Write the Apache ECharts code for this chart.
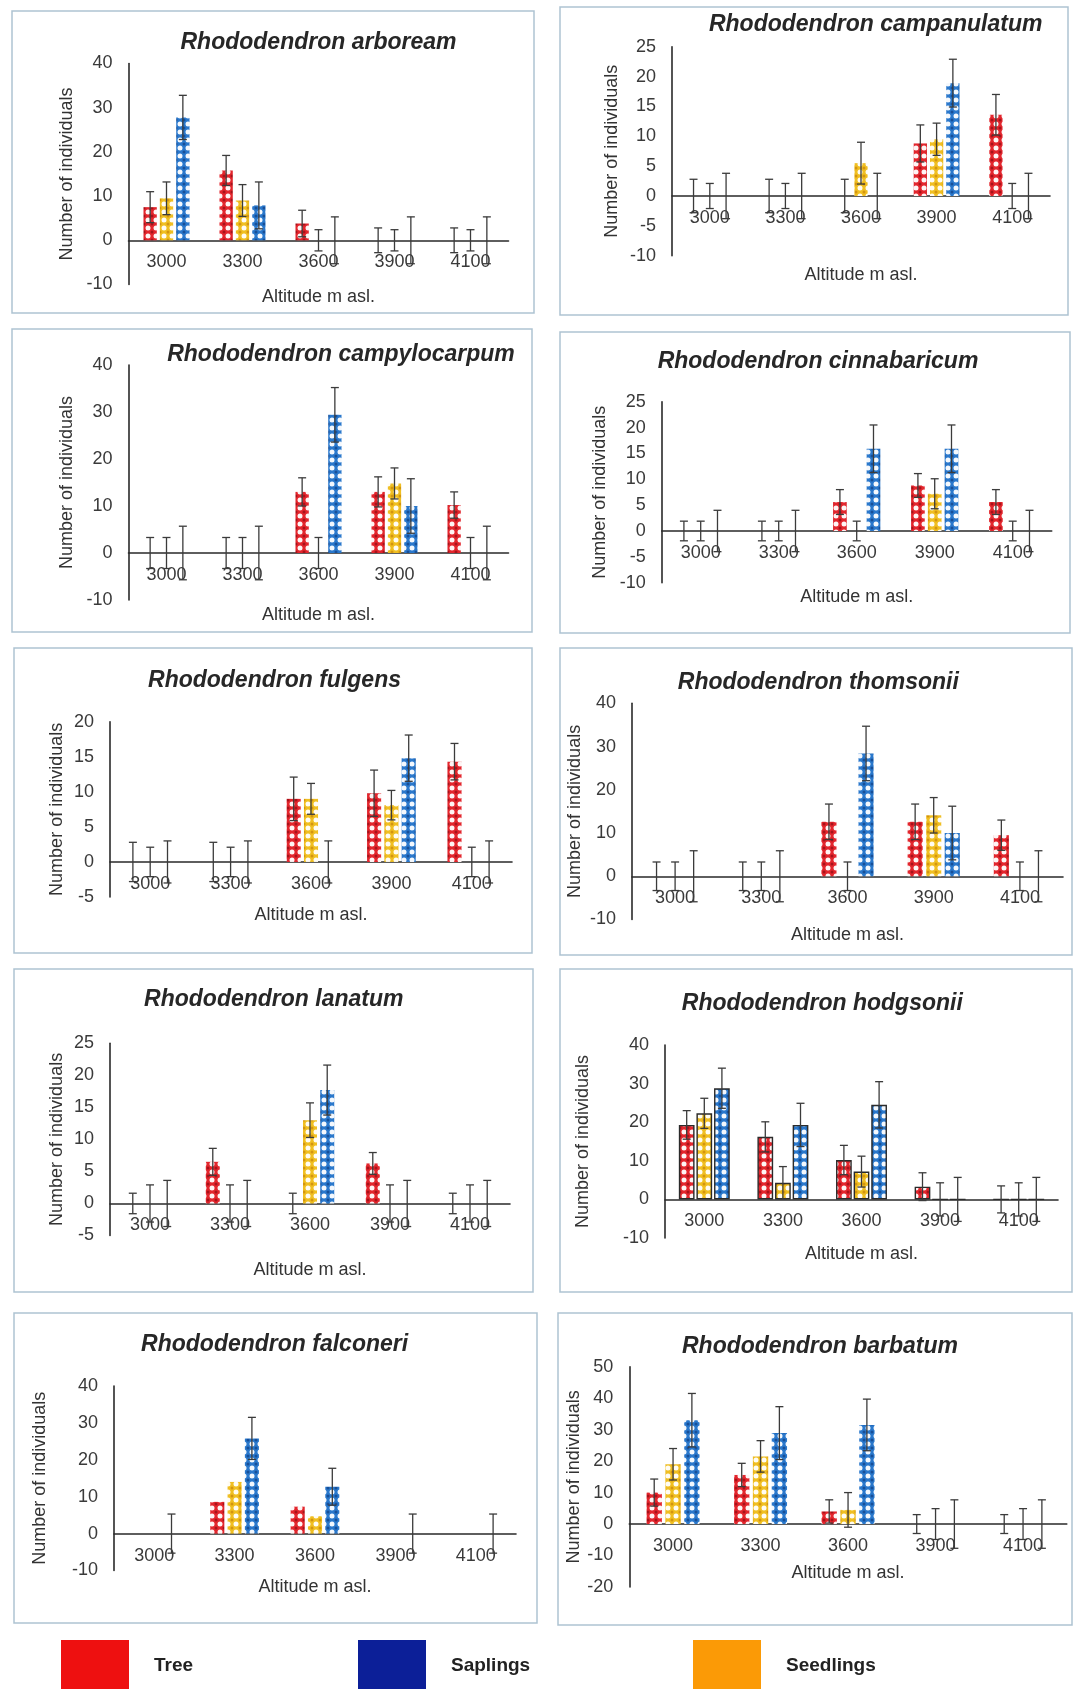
<!DOCTYPE html>
<html>
<head>
<meta charset="utf-8">
<script src="https://cdn.jsdelivr.net/npm/echarts@6/dist/echarts.min.js"></script>
<style>
  html, body { margin: 0; padding: 0; background: #ffffff; }
  #chart { width: 1073px; height: 1689px; }
</style>
</head>
<body>
<div id="chart"></div>
<script>
// Altitude classes (m asl.)
const altitudes = ['3000', '3300', '3600', '3900', '4100'];

// Rhododendron arboream
const arboreamTree = [7.5, 15.8, 3.8, 0, 0];
const arboreamTreeErr = [3.5, 3.4, 3.0, 2.8, 2.8];
const arboreamSeedlings = [9.5, 9, 0, 0, 0];
const arboreamSeedlingsErr = [3.7, 3.6, 2.4, 2.4, 2.4];
const arboreamSaplings = [27.8, 7.9, 0, 0, 0];
const arboreamSaplingsErr = [5, 5.3, 5.3, 5.3, 5.3];
const arboreamTicks = [-10, 40, 10];

// Rhododendron campanulatum
const campanulatumTree = [0, 0, 0, 8.8, 13.6];
const campanulatumTreeErr = [2.8, 2.8, 2.8, 3.1, 3.4];
const campanulatumSeedlings = [0, 0, 5.5, 9.5, 0];
const campanulatumSeedlingsErr = [2.1, 2.1, 3.5, 2.7, 2.1];
const campanulatumSaplings = [0, 0, 0, 18.9, 0];
const campanulatumSaplingsErr = [3.8, 3.8, 3.8, 4, 3.8];
const campanulatumTicks = [-10, 25, 5];

// Rhododendron campylocarpum
const campylocarpumTree = [0, 0, 13, 13, 10.2];
const campylocarpumTreeErr = [3.3, 3.3, 3, 3.2, 2.8];
const campylocarpumSeedlings = [0, 0, 0, 14.8, 0];
const campylocarpumSeedlingsErr = [3.3, 3.3, 3.3, 3.3, 3.3];
const campylocarpumSaplings = [0, 0, 29.4, 10, 0];
const campylocarpumSaplingsErr = [5.7, 5.7, 5.8, 5.8, 5.7];
const campylocarpumTicks = [-10, 40, 10];

// Rhododendron cinnabaricum
const cinnabaricumTree = [0, 0, 5.6, 8.8, 5.6];
const cinnabaricumTreeErr = [1.9, 1.9, 2.4, 2.3, 2.4];
const cinnabaricumSeedlings = [0, 0, 0, 7.2, 0];
const cinnabaricumSeedlingsErr = [1.9, 1.9, 1.9, 2.9, 1.9];
const cinnabaricumSaplings = [0, 0, 15.9, 15.9, 0];
const cinnabaricumSaplingsErr = [4, 4, 4.6, 4.6, 4];
const cinnabaricumTicks = [-10, 25, 5];

// Rhododendron fulgens
const fulgensTree = [0, 0, 9, 9.8, 14.3];
const fulgensTreeErr = [2.8, 2.8, 3.1, 3.3, 2.6];
const fulgensSeedlings = [0, 0, 9, 8.1, 0];
const fulgensSeedlingsErr = [2.1, 2.1, 2.2, 2.1, 2.1];
const fulgensSaplings = [0, 0, 0, 14.8, 0];
const fulgensSaplingsErr = [3, 3, 3, 3.3, 3];
const fulgensTicks = [-5, 20, 5];

// Rhododendron thomsonii
const thomsoniiTree = [0, 0, 12.6, 12.6, 9.5];
const thomsoniiTreeErr = [3.3, 3.3, 4.1, 4.1, 3.5];
const thomsoniiSeedlings = [0, 0, 0, 14.1, 0];
const thomsoniiSeedlingsErr = [3.3, 3.3, 3.3, 4.1, 3.3];
const thomsoniiSaplings = [0, 0, 28.4, 10, 0];
const thomsoniiSaplingsErr = [5.9, 5.9, 6.3, 6.2, 5.9];
const thomsoniiTicks = [-10, 40, 10];

// Rhododendron lanatum
const lanatumTree = [0, 6.5, 0, 6.25, 0];
const lanatumTreeErr = [1.6, 2.1, 1.6, 1.7, 1.6];
const lanatumSeedlings = [0, 0, 13, 0, 0];
const lanatumSeedlingsErr = [2.9, 2.9, 2.7, 2.9, 2.9];
const lanatumSaplings = [0, 0, 17.7, 0, 0];
const lanatumSaplingsErr = [3.6, 3.6, 3.9, 3.6, 3.6];
const lanatumTicks = [-5, 25, 5];

// Rhododendron hodgsonii
const hodgsoniiTree = [19.3, 16.2, 10.2, 3.3, 0];
const hodgsoniiTreeErr = [3.7, 3.9, 3.8, 3.6, 3.5];
const hodgsoniiSeedlings = [22.3, 4.3, 7.2, 0, 0];
const hodgsoniiSeedlingsErr = [3.9, 4.2, 4, 4.3, 4.3];
const hodgsoniiSaplings = [28.8, 19.3, 24.5, 0, 0];
const hodgsoniiSaplingsErr = [5.2, 5.6, 6, 5.7, 5.7];
const hodgsoniiTicks = [-10, 40, 10];

// Rhododendron falconeri
const falconeriTree = [0, 8.6, 7.3, 0, 0];
const falconeriTreeErr = [0, 0, 0, 0, 0];
const falconeriSeedlings = [0, 14, 4.7, 0, 0];
const falconeriSeedlingsErr = [0, 0, 0, 0, 0];
const falconeriSaplings = [0, 25.8, 12.7, 0, 0];
const falconeriSaplingsErr = [5.3, 5.7, 5, 5.3, 5.3];
const falconeriTicks = [-10, 40, 10];

// Rhododendron barbatum
const barbatumTree = [10, 15.6, 4, 0, 0];
const barbatumTreeErr = [4.3, 3.7, 3.7, 3, 3];
const barbatumSeedlings = [19, 21.5, 4.5, 0, 0];
const barbatumSeedlingsErr = [5, 5, 5.5, 4.9, 4.9];
const barbatumSaplings = [33, 28.9, 31.5, 0, 0];
const barbatumSaplingsErr = [8.5, 8.4, 8.2, 7.7, 7.7];
const barbatumTicks = [-20, 50, 10];

const stageNames = ['Tree', 'Seedlings', 'Saplings'];

// Panel layout: frame box, plot grid, title centre and axis-name gaps
const panels = [
  { title: 'Rhododendron arboream', data: [arboreamTree, arboreamSeedlings, arboreamSaplings], err: [arboreamTreeErr, arboreamSeedlingsErr, arboreamSaplingsErr], ticks: arboreamTicks,
    frame: [12, 11, 522, 302], grid: [128.5, 63.5, 380, 221], titleAt: [318.5, 42.7], yGap: 52, xGap: 48 },
  { title: 'Rhododendron campanulatum', data: [campanulatumTree, campanulatumSeedlings, campanulatumSaplings], err: [campanulatumTreeErr, campanulatumSeedlingsErr, campanulatumSaplingsErr], ticks: campanulatumTicks,
    frame: [560, 7, 508, 308], grid: [672, 46.7, 378, 209], titleAt: [875.7, 25], yGap: 51, xGap: 70 },
  { title: 'Rhododendron campylocarpum', data: [campylocarpumTree, campylocarpumSeedlings, campylocarpumSaplings], err: [campylocarpumTreeErr, campylocarpumSeedlingsErr, campylocarpumSaplingsErr], ticks: campylocarpumTicks,
    frame: [12, 329, 520, 303], grid: [128.5, 365, 380, 235], titleAt: [341, 355], yGap: 52, xGap: 53 },
  { title: 'Rhododendron cinnabaricum', data: [cinnabaricumTree, cinnabaricumSeedlings, cinnabaricumSaplings], err: [cinnabaricumTreeErr, cinnabaricumSeedlingsErr, cinnabaricumSaplingsErr], ticks: cinnabaricumTicks,
    frame: [560, 332, 510, 301], grid: [661.7, 401.7, 390, 181], titleAt: [818, 361.7], yGap: 53, xGap: 57 },
  { title: 'Rhododendron fulgens', data: [fulgensTree, fulgensSeedlings, fulgensSaplings], err: [fulgensTreeErr, fulgensSeedlingsErr, fulgensSaplingsErr], ticks: fulgensTicks,
    frame: [14, 648, 518, 305], grid: [110, 721.7, 402, 175.3], titleAt: [274.5, 680.7], yGap: 44, xGap: 44 },
  { title: 'Rhododendron thomsonii', data: [thomsoniiTree, thomsoniiSeedlings, thomsoniiSaplings], err: [thomsoniiTreeErr, thomsoniiSeedlingsErr, thomsoniiSaplingsErr], ticks: thomsoniiTicks,
    frame: [560, 648, 512, 307], grid: [632, 703.3, 431, 216.2], titleAt: [818.3, 682.7], yGap: 48, xGap: 50 },
  { title: 'Rhododendron lanatum', data: [lanatumTree, lanatumSeedlings, lanatumSaplings], err: [lanatumTreeErr, lanatumSeedlingsErr, lanatumSaplingsErr], ticks: lanatumTicks,
    frame: [14, 969, 519, 323], grid: [110, 1043.3, 400, 192.2], titleAt: [273.8, 1000], yGap: 44, xGap: 58 },
  { title: 'Rhododendron hodgsonii', data: [hodgsoniiTree, hodgsoniiSeedlings, hodgsoniiSaplings], err: [hodgsoniiTreeErr, hodgsoniiSeedlingsErr, hodgsoniiSaplingsErr], ticks: hodgsoniiTicks,
    frame: [560, 969, 512, 323], grid: [665, 1045, 393, 193], titleAt: [822.3, 1003.3], yGap: 73, xGap: 46, outlined: true },
  { title: 'Rhododendron falconeri', data: [falconeriTree, falconeriSeedlings, falconeriSaplings], err: [falconeriTreeErr, falconeriSeedlingsErr, falconeriSaplingsErr], ticks: falconeriTicks,
    frame: [14, 1313, 523, 310], grid: [114, 1386, 402, 184.5], titleAt: [274.6, 1345], yGap: 65, xGap: 44 },
  { title: 'Rhododendron barbatum', data: [barbatumTree, barbatumSeedlings, barbatumSaplings], err: [barbatumTreeErr, barbatumSeedlingsErr, barbatumSaplingsErr], ticks: barbatumTicks,
    frame: [558, 1313, 514, 312], grid: [629.3, 1366.7, 437.5, 220.3], titleAt: [820, 1346.7], yGap: 42, xGap: 40 }
];

const FONT = '"Liberation Sans", Arial, sans-serif';

// Checkered fill: white discs on the stage colour
function checkerFill(base, dot) {
  const c = document.createElement('canvas');
  c.width = 8; c.height = 8;
  const g = c.getContext('2d');
  g.fillStyle = base; g.fillRect(0, 0, 8, 8);
  g.fillStyle = 'rgba(255,255,255,0.95)';
  g.beginPath(); g.arc(4, 4, 2.5, 0, Math.PI * 2); g.fill();
  g.fillStyle = dot;
  [[0, 0], [8, 0], [0, 8], [8, 8]].forEach(function (p) {
    g.beginPath(); g.arc(p[0], p[1], 1.5, 0, Math.PI * 2); g.fill();
  });
  return { image: c, repeat: 'repeat' };
}

const stageFills = [
  checkerFill('#e3262d', '#a8121a'),
  checkerFill('#f0bf22', '#d4950f'),
  checkerFill('#2a78cc', '#174f98')
];
const legendColors = { Tree: '#ee1010', Saplings: '#0c1f98', Seedlings: '#fb9a06' };

// Error bars drawn at the same offsets as the grouped bars
function errorBarRenderer(frac, gap) {
  return function (params, api) {
    const cat = api.value(0), v = api.value(1), e = api.value(2), slot = api.value(3);
    if (!e) return null;
    const band = api.size([1, 0])[0];
    const w = band * frac;
    const x = api.coord([cat, v])[0] + (slot - 1) * w * (1 + gap);
    const yTop = api.coord([cat, v + e])[1];
    const yBot = api.coord([cat, v - e])[1];
    const cap = 4;
    const st = { stroke: '#3b3b3b', lineWidth: 1.3 };
    return {
      type: 'group',
      children: [
        { type: 'line', shape: { x1: x, y1: yTop, x2: x, y2: yBot }, style: st },
        { type: 'line', shape: { x1: x - cap, y1: yTop, x2: x + cap, y2: yTop }, style: st },
        { type: 'line', shape: { x1: x - cap, y1: yBot, x2: x + cap, y2: yBot }, style: st }
      ]
    };
  };
}

const option = {
  backgroundColor: '#ffffff',
  animation: false,
  title: [],
  grid: [],
  xAxis: [],
  yAxis: [],
  series: [],
  graphic: [],
  legend: []
};

panels.forEach(function (p, i) {
  const frac = p.outlined ? 0.2 : 0.175;
  const gap = p.outlined ? 0.12 : 0.23;
  // lift the category axis (line, labels, name) from the grid bottom up to value 0
  const zeroLift = p.grid[3] * (0 - p.ticks[0]) / (p.ticks[1] - p.ticks[0]);

  option.graphic.push({
    type: 'rect', silent: true, z: -10,
    shape: { x: p.frame[0], y: p.frame[1], width: p.frame[2], height: p.frame[3] },
    style: { fill: '#ffffff', stroke: '#aec3d2', lineWidth: 1.5 }
  });

  option.title.push({
    text: p.title,
    left: p.titleAt[0], top: p.titleAt[1] - 13,
    textAlign: 'center', padding: 0,
    textStyle: { fontFamily: FONT, fontSize: 23, fontStyle: 'italic', fontWeight: 'bold', color: '#272727', lineHeight: 26 }
  });

  option.grid.push({
    left: p.grid[0], top: p.grid[1], width: p.grid[2], height: p.grid[3],
    containLabel: false, outerBoundsMode: 'none'
  });

  option.xAxis.push({
    type: 'category', gridIndex: i, data: altitudes,
    position: 'bottom', offset: -zeroLift,
    name: 'Altitude m asl.', nameLocation: 'middle', nameGap: p.xGap,
    nameTextStyle: { fontFamily: FONT, fontSize: 18, color: '#333333' },
    axisLine: { onZero: false, lineStyle: { color: '#2a2a2a', width: 1.6 } },
    axisTick: { show: false },
    axisLabel: { fontFamily: FONT, fontSize: 18, color: '#3a3a3a', margin: 13 },
    splitLine: { show: false }
  });

  option.yAxis.push({
    type: 'value', gridIndex: i,
    min: p.ticks[0], max: p.ticks[1], interval: p.ticks[2],
    name: 'Number of individuals', nameLocation: 'middle', nameGap: p.yGap, nameRotate: 90,
    nameTextStyle: { fontFamily: FONT, fontSize: 18, color: '#333333' },
    axisLine: { show: true, onZero: false, lineStyle: { color: '#2a2a2a', width: 1.6 } },
    axisTick: { show: false },
    axisLabel: { fontFamily: FONT, fontSize: 18, color: '#3a3a3a', margin: 16 },
    splitLine: { show: false }
  });

  stageNames.forEach(function (name, s) {
    option.series.push({
      type: 'bar', name: name, xAxisIndex: i, yAxisIndex: i,
      data: p.data[s],
      barWidth: (frac * 100) + '%', barGap: (gap * 100) + '%',
      itemStyle: p.outlined
        ? { color: stageFills[s], borderColor: '#2b2b2b', borderWidth: 1.4 }
        : { color: stageFills[s] },
      emphasis: { disabled: true },
      z: 2
    });
  });

  const errData = [];
  stageNames.forEach(function (name, s) {
    p.data[s].forEach(function (v, c) {
      errData.push([c, v, p.err[s][c], s]);
    });
  });
  option.series.push({
    type: 'custom', name: 'error', xAxisIndex: i, yAxisIndex: i,
    renderItem: errorBarRenderer(frac, gap),
    encode: { x: 0, y: 1 },
    data: errData, z: 5, silent: true
  });
});

// Three legend blocks along the bottom
[['Tree', 56], ['Saplings', 353], ['Seedlings', 688]].forEach(function (item) {
  option.legend.push({
    data: [{ name: item[0], itemStyle: { color: legendColors[item[0]], borderWidth: 0 } }],
    left: item[1], top: 1635,
    icon: 'rect', itemWidth: 68, itemHeight: 52,
    selectedMode: false,
    textStyle: { fontFamily: FONT, fontSize: 19, fontWeight: 'bold', color: '#222222', padding: [0, 0, 0, 20] }
  });
});

const chart = echarts.init(document.getElementById('chart'), null, { renderer: 'canvas' });
chart.setOption(option);
</script>
</body>
</html>
